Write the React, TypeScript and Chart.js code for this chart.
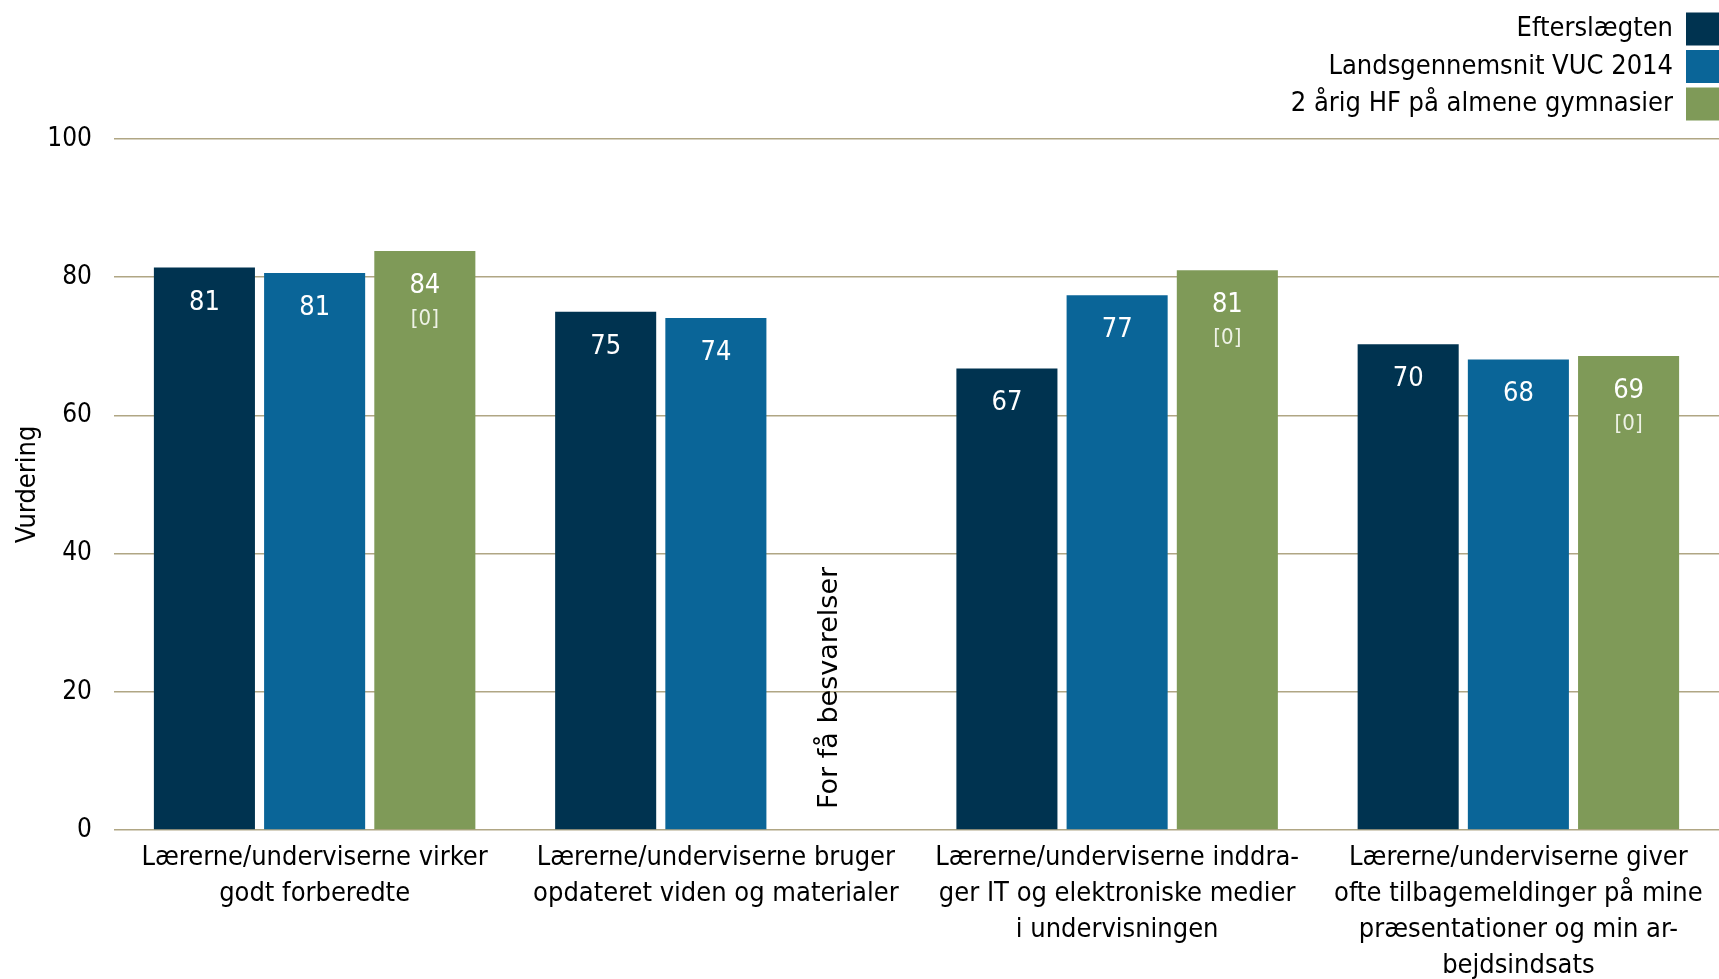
import React, { useEffect, useRef } from "react";
import { Chart, registerables } from "chart.js";
Chart.register(...registerables);

const FONT = '"DejaVu Sans Condensed", "DejaVu Sans", sans-serif';
const FONT_WIDE = '"DejaVu Sans", sans-serif';

const categories: string[][] = [
  ["Lærerne/underviserne virker", "godt forberedte"],
  ["Lærerne/underviserne bruger", "opdateret viden og materialer"],
  ["Lærerne/underviserne inddra-", "ger IT og elektroniske medier", "i undervisningen"],
  ["Lærerne/underviserne giver", "ofte tilbagemeldinger på mine", "præsentationer og min ar-", "bejdsindsats"],
];
const seriesNames = ["Efterslægten", "Landsgennemsnit VUC 2014", "2 årig HF på almene gymnasier"];
const efterslaegten = [81.4, 75.0, 66.8, 70.3];
const landsgennemsnit = [80.6, 74.1, 77.4, 68.1];
const almeneGymnasier: (number | null)[] = [83.8, null, 81.0, 68.6];
const gymnasierNotes = ["[0]", "", "[0]", "[0]"];
const missingText = "For få besvarelser";
const yTicks = [0, 20, 40, 60, 80, 100];
const colors = ["#003350", "#0A6598", "#7F9A58"];
const yTitle = "Vurdering";

const labelPlugin = {
  id: "barLabels",
  afterDatasetsDraw(chart: any) {
    const ctx = chart.ctx;
    ctx.save();
    chart.data.datasets.forEach((ds: any, di: number) => {
      const meta = chart.getDatasetMeta(di);
      meta.data.forEach((el: any, i: number) => {
        const v = ds.data[i];
        if (v === null || v === undefined) {
          if (di === 2) {
            ctx.save();
            ctx.translate(el.x + 4, chart.scales.y.getPixelForValue(0) - 21);
            ctx.rotate(-Math.PI / 2);
            ctx.fillStyle = "#000";
            ctx.font = `27px ${FONT_WIDE}`;
            ctx.textAlign = "left";
            ctx.textBaseline = "middle";
            ctx.fillText(missingText, 0, 0);
            ctx.restore();
          }
          return;
        }
        ctx.fillStyle = "#ffffff";
        ctx.textAlign = "center";
        ctx.textBaseline = "middle";
        ctx.font = `27px ${FONT}`;
        ctx.fillText(String(Math.round(v)), el.x, el.y + 35);
        if (di === 2 && gymnasierNotes[i]) {
          ctx.fillStyle = "#eef2e6";
          ctx.font = `22px ${FONT}`;
          ctx.fillText(gymnasierNotes[i], el.x, el.y + 68);
        }
      });
    });
    ctx.restore();
  },
};

const legendPlugin = {
  id: "rightLegend",
  afterDraw(chart: any) {
    const ctx = chart.ctx;
    ctx.save();
    const right = chart.width;
    chart.data.datasets.forEach((ds: any, i: number) => {
      const cy = 29 + i * 37.5;
      ctx.fillStyle = ds.backgroundColor;
      ctx.fillRect(right - 33, cy - 16.5, 33, 33);
      ctx.fillStyle = "#000";
      ctx.font = `27px ${FONT}`;
      ctx.textAlign = "right";
      ctx.textBaseline = "middle";
      ctx.fillText(ds.label, right - 46, cy);
    });
    ctx.restore();
  },
};

export default function App() {
  const ref = useRef<HTMLCanvasElement>(null);
  useEffect(() => {
    document.body.style.margin = "0";
    const chart = new Chart(ref.current!, {
      type: "bar",
      data: {
        labels: categories,
        datasets: [
          { label: seriesNames[0], data: efterslaegten, backgroundColor: colors[0] },
          { label: seriesNames[1], data: landsgennemsnit, backgroundColor: colors[1] },
          { label: seriesNames[2], data: almeneGymnasier, backgroundColor: colors[2] },
        ],
      },
      options: {
        responsive: false,
        animation: false,
        layout: { padding: { top: 139, left: 0, right: 0, bottom: 0 } },
        plugins: { legend: { display: false }, tooltip: { enabled: false } },
        datasets: { bar: { categoryPercentage: 0.824, barPercentage: 0.917 } },
        scales: {
          x: {
            grid: { display: false },
            border: { display: false },
            ticks: {
              color: "#000",
              font: { family: FONT, size: 27, lineHeight: 36 / 27 },
              padding: 2,
              maxRotation: 0,
              autoSkip: false,
            },
            afterFit: (s: any) => { s.height = 149; },
          },
          y: {
            min: 0,
            max: 100,
            afterBuildTicks: (s: any) => { s.ticks = yTicks.map((v) => ({ value: v })); },
            grid: { color: "#B0A684", lineWidth: 1.5, drawTicks: false },
            border: { display: false },
            ticks: { color: "#000", font: { family: FONT, size: 26 }, padding: 22 },
            title: { display: true, text: yTitle, color: "#000", font: { family: FONT, size: 27 }, padding: { top: 12, bottom: 0 } },
            afterFit: (s: any) => { s.width = 114; },
          },
        },
      },
      plugins: [labelPlugin, legendPlugin],
    });
    return () => chart.destroy();
  }, []);
  return (
    <div style={{ position: "fixed", left: 0, top: 0, width: 1719, height: 979, background: "#fff" }}>
      <canvas ref={ref} width={1719} height={979} style={{ width: 1719, height: 979 }} />
    </div>
  );
}
